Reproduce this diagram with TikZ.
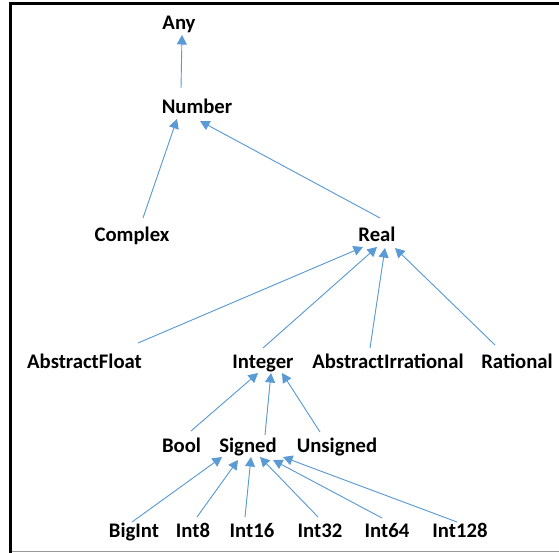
\documentclass[tikz,border=0pt]{standalone}
\usepackage{fontspec}
\setmainfont{Carlito}
\usetikzlibrary{arrows.meta}
\definecolor{linkblue}{HTML}{5B9BD5}
\begin{document}
\begin{tikzpicture}[x=1pt,y=-1pt,
  lbl/.style={anchor=base,inner sep=0pt,font=\fontsize{20.7}{24}\selectfont\bfseries},
  link/.style={draw=linkblue,line width=0.9pt,-{Triangle[length=9.5pt,width=10pt]},fill=linkblue}]
\useasboundingbox (0,0) rectangle (559,553);
\fill[white] (0,0) rectangle (559,553);
% frame
\draw[black,line width=2.6pt] (10.2,2) -- (10.2,553);
\draw[black,line width=2.6pt] (9,3.3) -- (559,3.3);
\draw[black!40,line width=1.2pt] (11.5,551.6) -- (559,551.6);
% nodes
\node[lbl] (any) at (179,30) {Any};
\node[lbl] (number) at (197,114) {Number};
\node[lbl] (complex) at (132,241) {Complex};
\node[lbl] (real) at (377,241) {Real};
\node[lbl] (afloat) at (84.5,368) {AbstractFloat};
\node[lbl] (integer) at (263,368) {Integer};
\node[lbl] (airr) at (388,368) {AbstractIrrational};
\node[lbl] (rational) at (517,368) {Rational};
\node[lbl] (bool) at (181.5,452) {Bool};
\node[lbl] (signed) at (248,452) {Signed};
\node[lbl] (unsigned) at (337,452) {Unsigned};
\node[lbl] (bigint) at (134,537) {BigInt};
\node[lbl] (int8) at (193,537) {Int8};
\node[lbl] (int16) at (252,537) {Int16};
\node[lbl] (int32) at (320,537) {Int32};
\node[lbl] (int64) at (387,537) {Int64};
\node[lbl] (int128) at (460,537) {Int128};
% connectors (offsets in px, y downward)
\draw[link] ([shift={(-16,-26)}]number.base) -- ([shift={(3,5)}]any.base);
\draw[link] ([shift={(11,-23)}]complex.base) -- ([shift={(-20,5)}]number.base);
\draw[link] ([shift={(3,-23)}]real.base) -- ([shift={(3,7)}]number.base);
\draw[link] ([shift={(53.5,-25)}]afloat.base) -- ([shift={(-14,6)}]real.base);
\draw[link] ([shift={(0,-20)}]integer.base) -- ([shift={(0,6)}]real.base);
\draw[link] ([shift={(-18,-20)}]airr.base) -- ([shift={(8,7)}]real.base);
\draw[link] ([shift={(-22,-23)}]rational.base) -- ([shift={(18,7)}]real.base);
\draw[link] ([shift={(9.5,-21)}]bool.base) -- ([shift={(-5,5)}]integer.base);
\draw[link] ([shift={(17,-17)}]signed.base) -- ([shift={(8,5)}]integer.base);
\draw[link] ([shift={(-17,-20)}]unsigned.base) -- ([shift={(19,5)}]integer.base);
\draw[link] ([shift={(-2,-15)}]bigint.base) -- ([shift={(-26,5)}]signed.base);
\draw[link] ([shift={(4,-20)}]int8.base) -- ([shift={(-10,8)}]signed.base);
\draw[link] ([shift={(-7,-20)}]int16.base) -- ([shift={(3,5)}]signed.base);
\draw[link] ([shift={(-2,-20)}]int32.base) -- ([shift={(12,5)}]signed.base);
\draw[link] ([shift={(-5,-19)}]int64.base) -- ([shift={(25,8)}]signed.base);
\draw[link] ([shift={(-3,-15)}]int128.base) -- ([shift={(35,5)}]signed.base);
\end{tikzpicture}
\end{document}
